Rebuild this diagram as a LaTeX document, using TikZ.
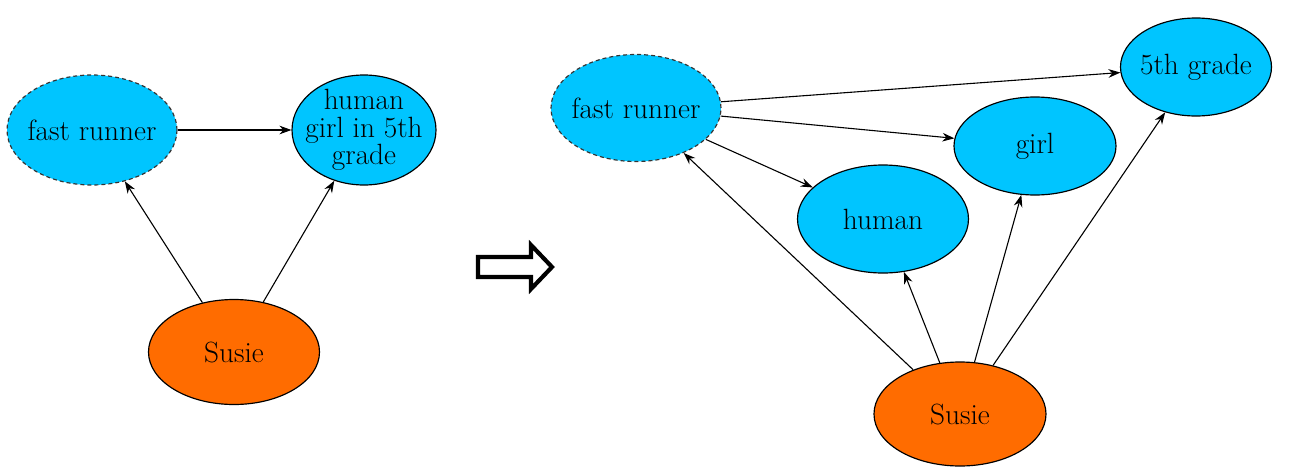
\documentclass[tikz,border=0pt]{standalone}
\usetikzlibrary{shapes.geometric,arrows.meta}
\definecolor{skyfill}{RGB}{0,197,255}
\definecolor{susiefill}{RGB}{255,108,0}
\tikzset{
  x=0.03cm, y=-0.03cm,
  concept/.style={ellipse, draw=black, line width=0.35mm, fill=skyfill, inner sep=0pt},
  guess/.style={concept, dash pattern=on 1.2mm off 0.9mm, draw=black!80},
  person/.style={concept, fill=susiefill},
  txt/.style={font=\fontsize{25}{23.5}\selectfont, align=center, inner sep=0pt},
  edge/.style={line width=0.33mm, -{Stealth[length=3.6mm,width=2.6mm]}}
}
\begin{document}
\begin{tikzpicture}
\useasboundingbox (0,0) rectangle (1292,470);

% before: one compound concept
\node[guess, minimum width=170*0.03cm, minimum height=110*0.03cm] (frL) at (92,130) {};
\node[txt] at (frL) {fast runner};
\node[concept, minimum width=144*0.03cm, minimum height=110*0.03cm] (hgL) at (364,130) {};
\node[txt] at (hgL) {human\\girl in 5th\\grade};
\node[person, minimum width=171*0.03cm, minimum height=105*0.03cm] (sL) at (234,352) {};
\node[txt] at (sL) {Susie};

\draw[edge] (frL) -- (hgL);
\draw[edge] (sL) -- (frL);
\draw[edge] (sL) -- (hgL);

% transformation arrow
\draw[line width=1.25mm, miter limit=10]
  (478,257) -- (531,257) -- (531,245) -- (552,267) -- (531,289) -- (531,277) -- (478,277) -- cycle;

% after: separate concepts
\node[guess, minimum width=170*0.03cm, minimum height=107*0.03cm] (frR) at (636,108) {};
\node[txt] at (frR) {fast runner};
\node[concept, minimum width=151*0.03cm, minimum height=98*0.03cm] (grR) at (1196,67) {};
\node[txt] at (grR) {5th grade};
\node[concept, minimum width=162*0.03cm, minimum height=98*0.03cm] (giR) at (1035,146) {};
\node[txt] at (giR) {girl};
\node[concept, minimum width=171*0.03cm, minimum height=108*0.03cm] (huR) at (883,219) {};
\node[txt] at (huR) {human};
\node[person, minimum width=172*0.03cm, minimum height=104*0.03cm] (sR) at (960,414) {};
\node[txt] at (sR) {Susie};

\draw[edge] (frR) -- (grR);
\draw[edge] (frR) -- (giR);
\draw[edge] (frR) -- (huR);
\draw[edge] (sR) -- (frR);
\draw[edge] (sR) -- (huR);
\draw[edge] (sR) -- (giR);
\draw[edge] (sR) -- (grR);
\end{tikzpicture}
\end{document}
